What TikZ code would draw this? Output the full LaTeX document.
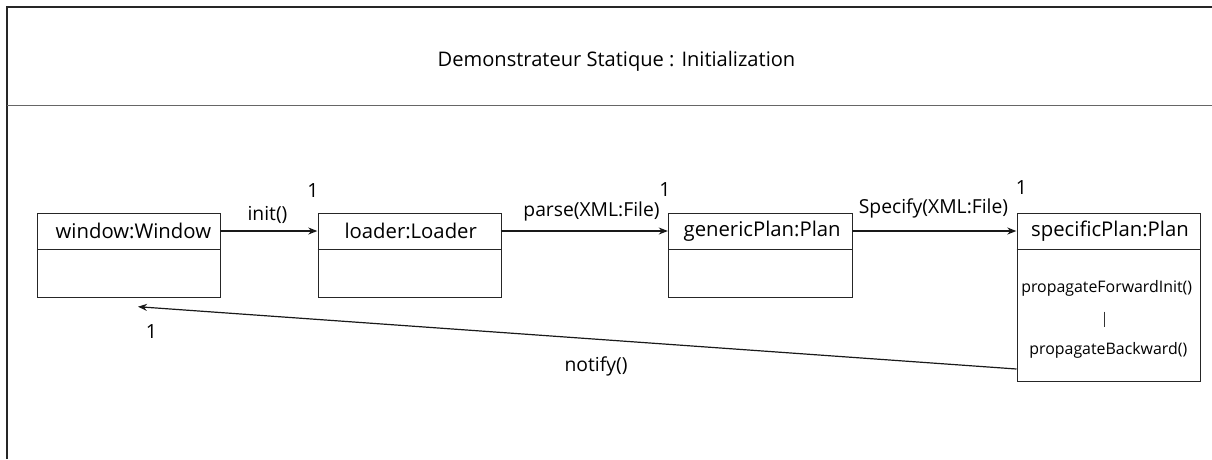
\documentclass[tikz,border=0pt]{standalone}
\usepackage{fontspec}
\setmainfont{Open Sans}
\usetikzlibrary{arrows.meta}
\tikzset{
  frameline/.style={line width=1.6pt, draw=black!85},
  clsbox/.style={draw=black!85, line width=1.2pt, rectangle, inner sep=0pt, anchor=north west},
  hdr/.style={inner sep=0pt, minimum height=37pt, font=\fontsize{20.3}{20.3}\selectfont, text=black},
  arr/.style={draw=black!90, line width=1.2pt, -{Stealth[length=9pt,width=7pt]}},
  mult/.style={inner sep=0pt, font=\fontsize{19.5}{19.5}\selectfont, text=black},
  lbl/.style={inner sep=0pt, font=\fontsize{19.3}{19.3}\selectfont, text=black},
  meth/.style={inner sep=0pt, font=\fontsize{15.9}{15.9}\selectfont, text=black},
}
\begin{document}
\begin{tikzpicture}[x=1pt,y=-1pt]
\useasboundingbox (0,0) rectangle (1212,459);
% frame
\draw[frameline] (7,459) -- (7,7) -- (1212,7);
\draw[frameline, draw=black!60] (7,105.5) -- (1212,105.5);
\node[inner sep=0pt, font=\fontsize{20.1}{20.1}\selectfont, text=black] (title) at (616.5,61) {Demonstrateur Statique : Initialization};
% boxes
\node[clsbox, minimum width=183pt, minimum height=84.5pt] (w) at (37,212.5) {};
\node[clsbox, minimum width=183pt, minimum height=84.5pt] (l) at (317.5,212.5) {};
\node[clsbox, minimum width=184pt, minimum height=84.5pt] (g) at (668,212.5) {};
\node[clsbox, minimum width=183.5pt, minimum height=168pt] (s) at (1016.5,212.5) {};
\foreach \b in {w,l,g,s}{
  \draw[draw=black!85, line width=1.2pt] ([yshift=-37pt]\b.north west) -- ([yshift=-37pt]\b.north east);
}
% header names (centred on their boxes; text nudged right as in the original)
\node[hdr, minimum width=183pt] (wn) at (128.5,231) {\hspace*{9.7pt}window:Window};
\node[hdr, minimum width=183pt] (ln) at (409,231) {\hspace*{3.4pt}loader:Loader};
\node[hdr, minimum width=184pt] (gn) at (760,231) {\hspace*{4.3pt}genericPlan:Plan};
\node[hdr, minimum width=183.5pt] (sn) at (1108.25,231) {\hspace*{3.5pt}specificPlan:Plan};
% methods
\node[meth] (m1) at (1106.7,288.5) {propagateForwardInit()};
\node[meth] (m2) at (1108.3,350) {propagateBackward()};
\draw[draw=black!80, line width=1pt] (1104,311.5) -- (1104,327);
% arrows
\draw[arr] (wn.east) -- (ln.west);
\draw[arr] (ln.east) -- (gn.west);
\draw[arr] (gn.east) -- (sn.west);
\coordinate (ns) at (1016.5,369);
\coordinate (nt) at (138,306.7);
\draw[arr] (ns) -- (nt);
% labels
\node[lbl] (linit) at (267.5,215) {init()};
\node[lbl] (lparse) at (591.5,211) {parse(XML:File)};
\node[lbl] (lspec) at (933.5,208) {Specify(XML:File)};
\node[lbl] (lnotify) at (596,366.5) {notify()};
\node[mult] (m_l) at (313,190.5) {1};
\node[mult] (m_g) at (665,190) {1};
\node[mult] (m_s) at (1021.5,188) {1};
\node[mult] (m_w) at (151.5,331.5) {1};
\end{tikzpicture}
\end{document}
